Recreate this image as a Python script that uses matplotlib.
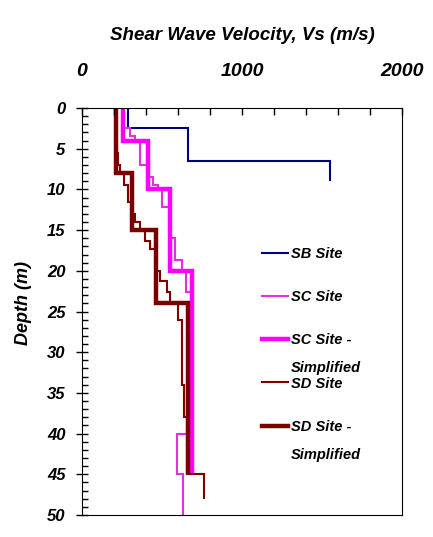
import matplotlib
matplotlib.use("Agg")
import matplotlib.pyplot as plt
from matplotlib.ticker import MultipleLocator
import numpy as np

# layer boundaries (depth, m) and shear wave velocity of each layer (m/s)
sb_depth = [0, 2.5, 6.5, 9]
sb_vs = [290, 660, 1550]

sc_depth = [0, 2.5, 3.5, 4, 7, 8.5, 9.4, 10, 12.2, 16, 18.7, 20, 22.6, 40, 45, 50]
sc_vs = [265, 300, 330, 362, 415, 445, 475, 498, 550, 580, 625, 650, 680, 592, 630]

sc_simp_depth = [0, 4, 10, 20, 45]
sc_simp_vs = [258, 415, 550, 685]

sd_depth = [0, 5.5, 7, 8, 9.5, 11.5, 13, 14, 15, 16.3, 17.3, 20, 21.3, 22.6,
            24, 26, 34, 38, 45, 48]
sd_vs = [212, 227, 240, 262, 290, 310, 331, 362, 392, 425, 462, 490, 530,
         550, 600, 622, 640, 655, 760]

sd_simp_depth = [0, 8, 15, 24, 45]
sd_simp_vs = [210, 310, 462, 662]

plt.rcParams['font.family'] = ['Liberation Sans', 'DejaVu Sans']
plt.rcParams['font.weight'] = 'bold'
plt.rcParams['font.style'] = 'italic'
plt.rcParams['axes.labelweight'] = 'bold'

fig = plt.figure(figsize=(4.33, 5.37), dpi=100)
ax = fig.add_axes([82 / 433, 1 - 515 / 537, 320 / 433, 407 / 537])

ax.stairs(sb_vs, sb_depth, orientation='horizontal', baseline=None,
          color='#000080', lw=1.5, label='SB Site')
ax.stairs(sc_vs, sc_depth, orientation='horizontal', baseline=None,
          color='#E030E0', lw=1.5, label='SC Site')
ax.stairs(sc_simp_vs, sc_simp_depth, orientation='horizontal', baseline=None,
          color='#FF00FF', lw=3.2, label='SC Site -')
ax.stairs(sd_vs, sd_depth, orientation='horizontal', baseline=None,
          color='#800000', lw=1.5, label='SD Site')
ax.stairs(sd_simp_vs, sd_simp_depth, orientation='horizontal', baseline=None,
          color='#7A0000', lw=3.2, label='SD Site -')

ax.set_xlim(0, 2000)
ax.set_ylim(50, 0)

ax.xaxis.tick_top()
ax.xaxis.set_label_position('top')
ax.xaxis.set_major_locator(MultipleLocator(1000))
ax.xaxis.set_minor_locator(MultipleLocator(200))
ax.yaxis.set_major_locator(MultipleLocator(5))
ax.yaxis.set_minor_locator(MultipleLocator(1))

ax.tick_params(axis='x', which='both', direction='in', length=5, width=1,
               pad=20, labelsize=14)
ax.tick_params(axis='y', which='major', direction='inout', length=8, width=1,
               pad=8, labelsize=12)
ax.tick_params(axis='y', which='minor', direction='in', length=4, width=1)

ax.set_xlabel('Shear Wave Velocity, Vs (m/s)', fontsize=13.5, labelpad=17,
              fontweight='bold', fontstyle='italic')
ax.set_ylabel('Depth (m)', fontsize=13, fontweight='bold', fontstyle='italic')
ax.yaxis.set_label_coords(-0.155, 0.52)

leg = ax.legend(loc='upper left', bbox_to_anchor=(262 / 433, 1 - 247 / 537),
                bbox_transform=fig.transFigure, frameon=False, borderpad=0,
                borderaxespad=0, handlelength=1.8, handletextpad=0.2,
                labelspacing=2.0, prop={'size': 10.5, 'weight': 'bold',
                                        'style': 'italic'})
texts = leg.get_texts()
for i in (2, 4):
    ax.annotate('Simplified', xy=(0, 0), xycoords=texts[i], xytext=(0, -10),
                textcoords='offset points', va='top', ha='left', zorder=10,
                annotation_clip=False,
                fontsize=10.5, fontweight='bold', fontstyle='italic')

fig.savefig('out.png', dpi=100)
